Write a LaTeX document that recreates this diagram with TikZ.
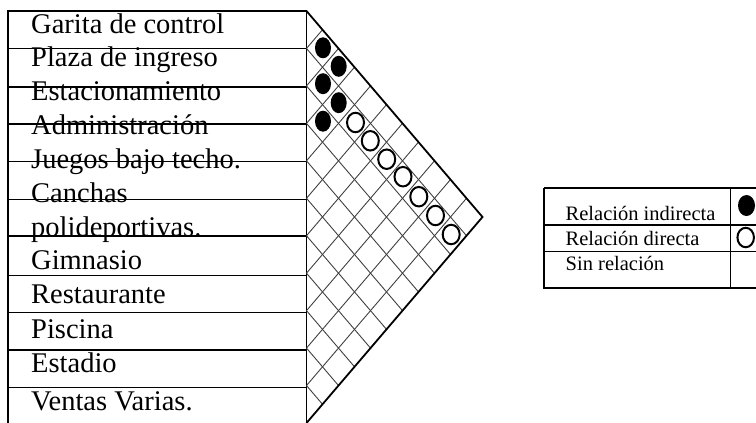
\documentclass[tikz,border=0pt]{standalone}
\usepackage{fontspec}
\setmainfont{Liberation Serif}
\usetikzlibrary{shapes.geometric}
\tikzset{
  rowlbl/.style={anchor=base west, inner sep=0pt, font=\fontsize{28.5}{30}\selectfont},
  leglbl/.style={anchor=base west, inner sep=0pt, font=\fontsize{20.5}{22}\selectfont},
  outerline/.style={line width=1.7pt, black},
  rowline/.style={line width=1.3pt, black},
  gridline/.style={line width=0.9pt, black!75},
  edgeline/.style={line width=1.8pt, black},
  fdot/.style={ellipse, fill=black, minimum width=16pt, minimum height=21pt, inner sep=0pt},
  odot/.style={ellipse, draw=black, line width=2pt, fill=white, minimum width=17pt, minimum height=19.5pt, inner sep=0pt}
}
\begin{document}
\begin{tikzpicture}[x=1pt,y=-1pt]
\useasboundingbox (0,0) rectangle (756,423);
\clip (0,0) rectangle (756,423);
% left table
\draw[rowline] (8.3,11) -- (306.5,11);
\foreach \yy in {48.3,87,124,161.7,199.3,236,275.5,312.7,350,387.7}{
  \draw[rowline] (8.3,\yy) -- (306.5,\yy);
}
\draw[outerline] (8.3,10.2) -- (8.3,430);
\draw[outerline] (306.5,10.2) -- (306.5,430);
% grid
\foreach \k in {1,...,10}{
  \pgfmathsetmacro\yk{11+\k*412/11}
  \draw[gridline] (306.5,\yk) -- ++(16*\k,-\k*18.7273);
  \draw[gridline] (306.5,\yk) -- ++(16*11-16*\k,18.7273*11-18.7273*\k);
}
\draw[edgeline] (306.5,11) -- (482.5,217) -- (306.5,423);
% labels
\node[rowlbl] (r1) at (31,34) {Garita de control};
\node[rowlbl] (r2) at (31,66.7) {Plaza de ingreso};
\node[rowlbl] (r3) at (31,100.7) {Estacionamiento};
\node[rowlbl] (r4) at (31,134.5) {Administración};
\node[rowlbl] (r5) at (31,168.3) {Juegos bajo techo.};
\node[rowlbl] (r6a) at (31,202.7) {Canchas};
\node[rowlbl] (r6b) at (31,236) {polideportivas.};
\node[rowlbl] (r7) at (31,269.3) {Gimnasio};
\node[rowlbl] (r8) at (31,303.3) {Restaurante};
\node[rowlbl] (r9) at (31,338.3) {Piscina};
\node[rowlbl] (r10) at (31,372.7) {Estadio};
\node[rowlbl] (r11) at (31,410) {Ventas Varias.};
% filled dots
\node[fdot] (f1) at (323,47.8) {};
\node[fdot] (f2) at (338.7,66.3) {};
\node[fdot] (f3) at (323,83.7) {};
\node[fdot] (f4) at (338.7,102.7) {};
\node[fdot] (f5) at (323,121.2) {};
% open dots
\node[odot] (o1) at (355.5,122.5) {};
\node[odot] (o2) at (370.3,140.8) {};
\node[odot] (o3) at (386.7,159.2) {};
\node[odot] (o4) at (403,176.7) {};
\node[odot] (o5) at (418.8,196.7) {};
\node[odot] (o6) at (435.5,215.5) {};
\node[odot] (o7) at (451.2,234.5) {};
% legend
\draw[outerline] (544.3,188.3) -- (770,188.3);
\draw[outerline] (544.3,288.3) -- (770,288.3);
\draw[outerline] (544.3,187.5) -- (544.3,289.1);
\draw[rowline] (544.3,225) -- (770,225);
\draw[rowline] (544.3,251.7) -- (770,251.7);
\draw[rowline] (730.7,188.3) -- (730.7,288.3);
\node[leglbl] (l1) at (565.5,220) {Relación indirecta};
\node[leglbl] (l2) at (565.5,245) {Relación directa};
\node[leglbl] (l3) at (565.5,270.7) {Sin relación};
\node[fdot, minimum width=17pt, minimum height=21pt] (lf) at (746.5,205.5) {};
\node[odot, minimum width=16.5pt, minimum height=19.5pt] (lo) at (745.7,237.5) {};
\end{tikzpicture}
\end{document}
